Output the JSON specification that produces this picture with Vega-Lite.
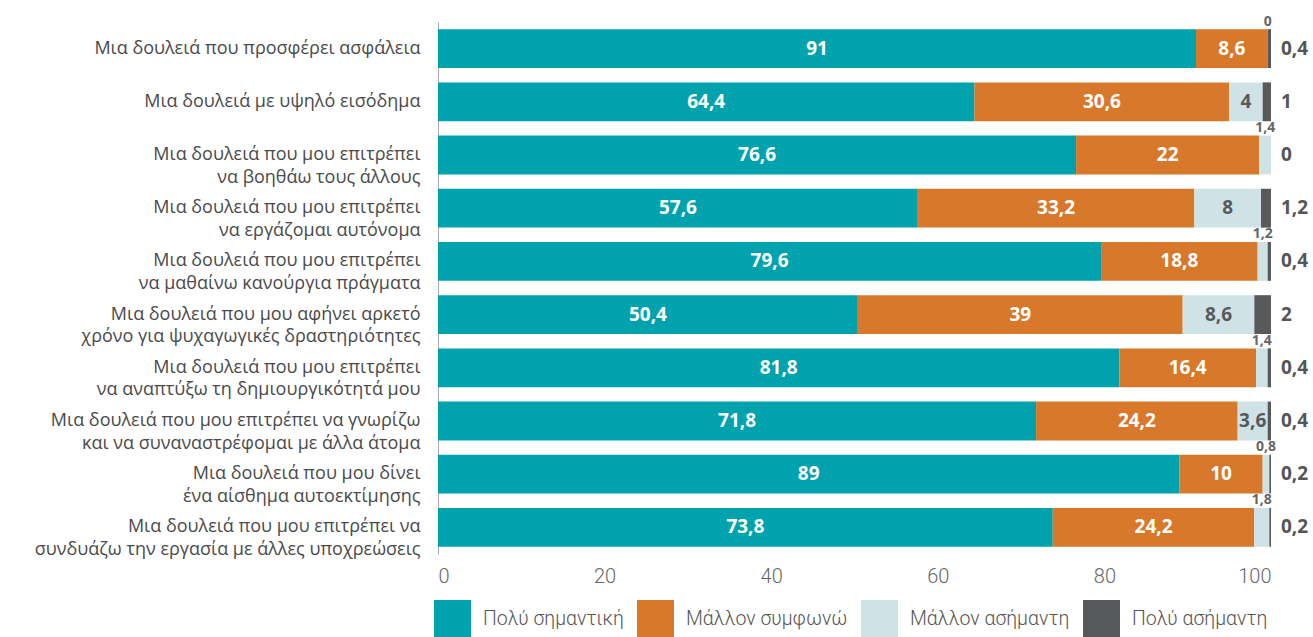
{
  "$schema": "https://vega.github.io/schema/vega-lite/v6.json",
  "width": 833,
  "height": 532,
  "autosize": {"type": "none"},
  "padding": {"left": 438, "top": 22, "right": 42, "bottom": 83},
  "background": "white",
  "config": {
    "locale": {"number": {"decimal": ",", "thousands": ".", "grouping": [3], "currency": ["", " €"]}},
    "view": {"stroke": null},
    "font": "Open Sans"
  },
  "datasets": {
    "rows": [
      {"item": "Μια δουλειά που προσφέρει ασφάλεια", "cat": "Πολύ σημαντική", "order": 1, "value": 91},
      {"item": "Μια δουλειά που προσφέρει ασφάλεια", "cat": "Μάλλον συμφωνώ", "order": 2, "value": 8.6},
      {"item": "Μια δουλειά που προσφέρει ασφάλεια", "cat": "Μάλλον ασήμαντη", "order": 3, "value": 0},
      {"item": "Μια δουλειά που προσφέρει ασφάλεια", "cat": "Πολύ ασήμαντη", "order": 4, "value": 0.4},
      {"item": "Μια δουλειά με υψηλό εισόδημα", "cat": "Πολύ σημαντική", "order": 1, "value": 64.4},
      {"item": "Μια δουλειά με υψηλό εισόδημα", "cat": "Μάλλον συμφωνώ", "order": 2, "value": 30.6},
      {"item": "Μια δουλειά με υψηλό εισόδημα", "cat": "Μάλλον ασήμαντη", "order": 3, "value": 4},
      {"item": "Μια δουλειά με υψηλό εισόδημα", "cat": "Πολύ ασήμαντη", "order": 4, "value": 1},
      {"item": "Μια δουλειά που μου επιτρέπει\nνα βοηθάω τους άλλους", "cat": "Πολύ σημαντική", "order": 1, "value": 76.6},
      {"item": "Μια δουλειά που μου επιτρέπει\nνα βοηθάω τους άλλους", "cat": "Μάλλον συμφωνώ", "order": 2, "value": 22},
      {"item": "Μια δουλειά που μου επιτρέπει\nνα βοηθάω τους άλλους", "cat": "Μάλλον ασήμαντη", "order": 3, "value": 1.4},
      {"item": "Μια δουλειά που μου επιτρέπει\nνα βοηθάω τους άλλους", "cat": "Πολύ ασήμαντη", "order": 4, "value": 0},
      {"item": "Μια δουλειά που μου επιτρέπει\nνα εργάζομαι αυτόνομα", "cat": "Πολύ σημαντική", "order": 1, "value": 57.6},
      {"item": "Μια δουλειά που μου επιτρέπει\nνα εργάζομαι αυτόνομα", "cat": "Μάλλον συμφωνώ", "order": 2, "value": 33.2},
      {"item": "Μια δουλειά που μου επιτρέπει\nνα εργάζομαι αυτόνομα", "cat": "Μάλλον ασήμαντη", "order": 3, "value": 8},
      {"item": "Μια δουλειά που μου επιτρέπει\nνα εργάζομαι αυτόνομα", "cat": "Πολύ ασήμαντη", "order": 4, "value": 1.2},
      {"item": "Μια δουλειά που μου επιτρέπει\nνα μαθαίνω κανούργια πράγματα", "cat": "Πολύ σημαντική", "order": 1, "value": 79.6},
      {"item": "Μια δουλειά που μου επιτρέπει\nνα μαθαίνω κανούργια πράγματα", "cat": "Μάλλον συμφωνώ", "order": 2, "value": 18.8},
      {"item": "Μια δουλειά που μου επιτρέπει\nνα μαθαίνω κανούργια πράγματα", "cat": "Μάλλον ασήμαντη", "order": 3, "value": 1.2},
      {"item": "Μια δουλειά που μου επιτρέπει\nνα μαθαίνω κανούργια πράγματα", "cat": "Πολύ ασήμαντη", "order": 4, "value": 0.4},
      {"item": "Μια δουλειά που μου αφήνει αρκετό\nχρόνο για ψυχαγωγικές δραστηριότητες", "cat": "Πολύ σημαντική", "order": 1, "value": 50.4},
      {"item": "Μια δουλειά που μου αφήνει αρκετό\nχρόνο για ψυχαγωγικές δραστηριότητες", "cat": "Μάλλον συμφωνώ", "order": 2, "value": 39},
      {"item": "Μια δουλειά που μου αφήνει αρκετό\nχρόνο για ψυχαγωγικές δραστηριότητες", "cat": "Μάλλον ασήμαντη", "order": 3, "value": 8.6},
      {"item": "Μια δουλειά που μου αφήνει αρκετό\nχρόνο για ψυχαγωγικές δραστηριότητες", "cat": "Πολύ ασήμαντη", "order": 4, "value": 2},
      {"item": "Μια δουλειά που μου επιτρέπει\nνα αναπτύξω τη δημιουργικότητά μου", "cat": "Πολύ σημαντική", "order": 1, "value": 81.8},
      {"item": "Μια δουλειά που μου επιτρέπει\nνα αναπτύξω τη δημιουργικότητά μου", "cat": "Μάλλον συμφωνώ", "order": 2, "value": 16.4},
      {"item": "Μια δουλειά που μου επιτρέπει\nνα αναπτύξω τη δημιουργικότητά μου", "cat": "Μάλλον ασήμαντη", "order": 3, "value": 1.4},
      {"item": "Μια δουλειά που μου επιτρέπει\nνα αναπτύξω τη δημιουργικότητά μου", "cat": "Πολύ ασήμαντη", "order": 4, "value": 0.4},
      {"item": "Μια δουλειά που μου επιτρέπει να γνωρίζω\nκαι να συναναστρέφομαι με άλλα άτομα", "cat": "Πολύ σημαντική", "order": 1, "value": 71.8},
      {"item": "Μια δουλειά που μου επιτρέπει να γνωρίζω\nκαι να συναναστρέφομαι με άλλα άτομα", "cat": "Μάλλον συμφωνώ", "order": 2, "value": 24.2},
      {"item": "Μια δουλειά που μου επιτρέπει να γνωρίζω\nκαι να συναναστρέφομαι με άλλα άτομα", "cat": "Μάλλον ασήμαντη", "order": 3, "value": 3.6},
      {"item": "Μια δουλειά που μου επιτρέπει να γνωρίζω\nκαι να συναναστρέφομαι με άλλα άτομα", "cat": "Πολύ ασήμαντη", "order": 4, "value": 0.4},
      {"item": "Μια δουλειά που μου δίνει\nένα αίσθημα αυτοεκτίμησης", "cat": "Πολύ σημαντική", "order": 1, "value": 89},
      {"item": "Μια δουλειά που μου δίνει\nένα αίσθημα αυτοεκτίμησης", "cat": "Μάλλον συμφωνώ", "order": 2, "value": 10},
      {"item": "Μια δουλειά που μου δίνει\nένα αίσθημα αυτοεκτίμησης", "cat": "Μάλλον ασήμαντη", "order": 3, "value": 0.8},
      {"item": "Μια δουλειά που μου δίνει\nένα αίσθημα αυτοεκτίμησης", "cat": "Πολύ ασήμαντη", "order": 4, "value": 0.2},
      {"item": "Μια δουλειά που μου επιτρέπει να\nσυνδυάζω την εργασία με άλλες υποχρεώσεις", "cat": "Πολύ σημαντική", "order": 1, "value": 73.8},
      {"item": "Μια δουλειά που μου επιτρέπει να\nσυνδυάζω την εργασία με άλλες υποχρεώσεις", "cat": "Μάλλον συμφωνώ", "order": 2, "value": 24.2},
      {"item": "Μια δουλειά που μου επιτρέπει να\nσυνδυάζω την εργασία με άλλες υποχρεώσεις", "cat": "Μάλλον ασήμαντη", "order": 3, "value": 1.8},
      {"item": "Μια δουλειά που μου επιτρέπει να\nσυνδυάζω την εργασία με άλλες υποχρεώσεις", "cat": "Πολύ ασήμαντη", "order": 4, "value": 0.2}
    ]
  },
  "data": {"name": "rows"},
  "transform": [
    {"stack": "value", "groupby": ["item"], "sort": [{"field": "order", "order": "ascending"}], "as": ["x0", "x1"]},
    {"calculate": "(datum.x0 + datum.x1) / 2", "as": "mid"}
  ],
  "encoding": {
    "y": {
      "field": "item",
      "type": "nominal",
      "sort": null,
      "scale": {"paddingInner": 0.27, "paddingOuter": 0.135},
      "axis": {
        "title": null,
        "ticks": false,
        "domain": true,
        "domainColor": "#aaaaaa",
        "domainWidth": 1,
        "labelFont": "Open Sans",
        "labelFontSize": 18,
        "labelColor": "#4a4a4a",
        "labelPadding": 18,
        "labelLineHeight": 22.5,
        "labelLimit": 600,
        "labelExpr": "split(datum.label, '\\n')"
      }
    }
  },
  "layer": [
    {
      "mark": {"type": "bar"},
      "encoding": {
        "x": {
          "field": "x0",
          "type": "quantitative",
          "scale": {"domain": [0, 100], "nice": false},
          "axis": {
            "title": null,
            "grid": false,
            "domain": false,
            "ticks": false,
            "values": [0, 20, 40, 60, 80, 100],
            "labelFont": "Roboto",
            "labelFontWeight": 300,
            "labelFontSize": 20,
            "labelColor": "#666666",
            "labelPadding": 12
          }
        },
        "x2": {"field": "x1"},
        "color": {
          "field": "cat",
          "type": "nominal",
          "scale": {
            "domain": ["Πολύ σημαντική", "Μάλλον συμφωνώ", "Μάλλον ασήμαντη", "Πολύ ασήμαντη"],
            "range": ["#00A3AD", "#D8782A", "#CFE2E6", "#58595B"]
          },
          "legend": {
            "title": null,
            "orient": "none",
            "legendX": -4,
            "legendY": 578,
            "direction": "horizontal",
            "columns": 4,
            "symbolType": "square",
            "symbolSize": 1369,
            "symbolStrokeWidth": 0,
            "labelFont": "Roboto",
            "labelFontWeight": 300,
            "labelFontSize": 19.5,
            "labelColor": "#555555",
            "labelOffset": 12,
            "columnPadding": 13,
            "labelLimit": 300,
            "padding": 0
          }
        }
      }
    },
    {
      "transform": [{"filter": "datum.order <= 2"}],
      "mark": {"type": "text", "color": "white", "fontWeight": "bold", "fontSize": 19, "font": "Open Sans"},
      "encoding": {
        "x": {"field": "mid", "type": "quantitative"},
        "text": {"field": "value", "type": "quantitative", "format": ".1~f"}
      }
    },
    {
      "transform": [{"filter": "datum.order == 3 && datum.value >= 3"}],
      "mark": {"type": "text", "color": "#58595B", "fontWeight": "bold", "fontSize": 19, "font": "Open Sans"},
      "encoding": {
        "x": {"field": "mid", "type": "quantitative"},
        "text": {"field": "value", "type": "quantitative", "format": ".1~f"}
      }
    },
    {
      "transform": [{"filter": "datum.order == 3 && datum.value < 3"}],
      "mark": {"type": "text", "color": "#666666", "fontWeight": "bold", "fontSize": 14, "font": "Open Sans", "dy": -27},
      "encoding": {
        "x": {"field": "mid", "type": "quantitative"},
        "text": {"field": "value", "type": "quantitative", "format": ".1~f"}
      }
    },
    {
      "transform": [{"filter": "datum.order == 4"}],
      "mark": {"type": "text", "color": "#555555", "fontWeight": "bold", "fontSize": 19, "font": "Open Sans", "align": "left", "dx": 10},
      "encoding": {
        "x": {"datum": 100, "type": "quantitative"},
        "text": {"field": "value", "type": "quantitative", "format": ".1~f"}
      }
    }
  ]
}
